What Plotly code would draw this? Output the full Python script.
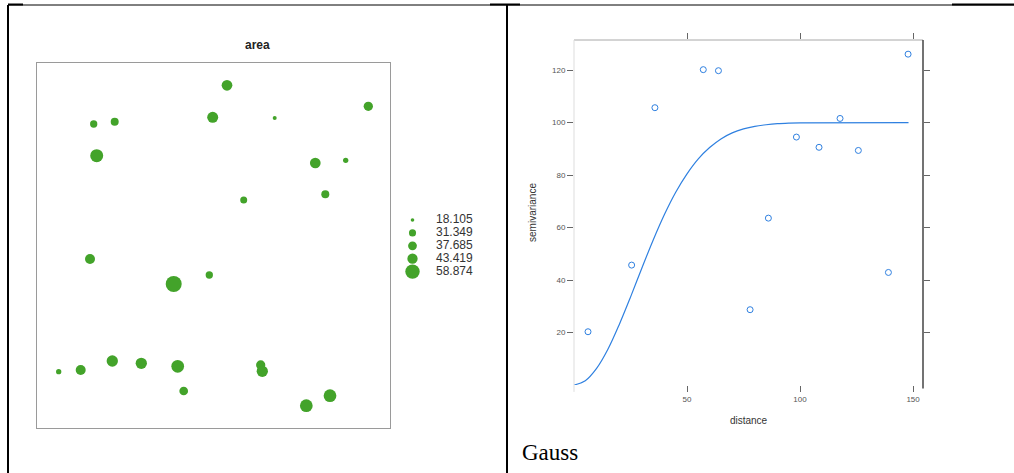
import plotly.graph_objects as go

# ---------------- data: left panel (bubble plot of "area") ----------------
site_x = [57.2, 78.2, 60.2, 176.2, 190.5, 238.2, 331.8, 278.8, 309.2, 288.8, 207.2, 53.5,
          137.2, 172.8, 22.2, 44.2, 75.8, 104.8, 141.2, 147.2, 224.2, 225.8, 269.8, 293.5]
site_y = [303.7, 306.0, 272.0, 310.4, 342.4, 309.7, 321.4, 264.7, 267.4, 233.4, 227.7, 168.7,
          143.7, 152.7, 56.0, 57.7, 66.7, 64.4, 61.4, 36.7, 62.7, 56.4, 22.0, 32.0]
site_area = [29.3, 31.7, 48.7, 41.9, 40.9, 18.105, 36.1, 40.9, 22.5, 31.7, 28.3, 38.5,
             58.874, 29.3, 22.5, 38.5, 42.9, 42.9, 47.7, 34.1, 36.1, 42.9, 47.7, 47.7]
legend_values = [18.105, 31.349, 37.685, 43.419, 58.874]
legend_labels = ["18.105", "31.349", "37.685", "43.419", "58.874"]

# ---------------- data: right panel (variogram, Gauss model) ----------------
vg_dist = [6.2, 25.5, 35.8, 57.2, 63.9, 77.9, 86.0, 98.4, 108.4, 117.7, 125.8, 139.1, 147.8]
vg_gamma = [20.3, 45.7, 105.7, 120.2, 119.8, 28.7, 63.6, 94.5, 90.6, 101.6, 89.4, 42.9, 126.1]
model_dist = [0, 5, 10, 15, 20, 25, 30, 35, 40, 45, 50, 55, 60, 65, 70, 75, 80, 85, 90, 95, 100, 148]
model_gamma = [0, 1.6, 6.3, 13.6, 23.0, 33.5, 44.5, 55.2, 65.0, 73.5, 80.5, 86.2, 90.5, 93.8,
               96.1, 97.6, 98.6, 99.2, 99.6, 99.8, 99.9, 100]
y_ticks = [20, 40, 60, 80, 100, 120]
x_ticks = [50, 100, 150]

# ---------------- helpers ----------------
W, H = 1014, 473
def px(x):
    return x / W
def py(y):
    return 1 - y / H

vmin, vmax = min(legend_values), max(legend_values)
def bubble_size(v):
    return 4 + (v - vmin) / (vmax - vmin) * 12

GREEN = "#43a32a"
BLUE = "#2f80e0"
FONT = "Liberation Sans, Arial, sans-serif"

fig = go.Figure()

# left: bubbles
fig.add_trace(go.Scatter(
    x=site_x, y=site_y, mode="markers",
    marker=dict(size=[bubble_size(v) for v in site_area], color=GREEN, opacity=1, line=dict(width=0)),
    xaxis="x", yaxis="y", showlegend=False, hoverinfo="skip"))

# left: custom size legend
legend_idx = list(range(len(legend_values)))
fig.add_trace(go.Scatter(
    x=[12.5] * len(legend_values), y=legend_idx, mode="markers",
    marker=dict(size=[bubble_size(v) * 0.9 for v in legend_values], color=GREEN, opacity=1,
                line=dict(width=0)),
    xaxis="x3", yaxis="y3", showlegend=False, hoverinfo="skip"))
fig.add_trace(go.Scatter(
    x=[36] * len(legend_values), y=legend_idx, mode="text", text=legend_labels,
    textposition="middle right", textfont=dict(family=FONT, size=12, color="#333"),
    xaxis="x3", yaxis="y3", showlegend=False, hoverinfo="skip"))

# right: model line + sample variogram
fig.add_trace(go.Scatter(
    x=model_dist, y=model_gamma, mode="lines", line=dict(color=BLUE, width=1.2, shape="spline"),
    xaxis="x2", yaxis="y2", showlegend=False, hoverinfo="skip"))
fig.add_trace(go.Scatter(
    x=vg_dist, y=vg_gamma, mode="markers",
    marker=dict(symbol="circle-open", size=6, color=BLUE, opacity=1, line=dict(width=1, color=BLUE)),
    xaxis="x2", yaxis="y2", showlegend=False, hoverinfo="skip"))

tickfont = dict(family=FONT, size=8, color="#555")
LEG_STEP = 12.9

fig.update_layout(
    width=W, height=H, margin=dict(l=0, r=0, t=0, b=0),
    paper_bgcolor="white", plot_bgcolor="white",
    xaxis=dict(domain=[px(36.5), px(390)], range=[0, 353.5], showgrid=False, zeroline=False,
               showticklabels=False, ticks="", showline=True, linecolor="#9a9a9a", linewidth=1,
               mirror=True, anchor="y"),
    yaxis=dict(domain=[py(427.7), py(63.3)], range=[0, 364.4], showgrid=False, zeroline=False,
               showticklabels=False, ticks="", showline=True, linecolor="#9a9a9a", linewidth=1,
               mirror=True, anchor="x"),
    xaxis3=dict(domain=[px(400), px(500)], range=[0, 100], visible=False, anchor="y3"),
    yaxis3=dict(domain=[py(220 + 5 * LEG_STEP), py(220 - LEG_STEP)], range=[5, -1], visible=False,
                anchor="x3"),
    xaxis2=dict(domain=[px(574), px(923)], range=[0, 154.4], showgrid=False, zeroline=False,
                anchor="y2",
                tickmode="array", tickvals=x_ticks, ticks="outside", ticklen=6, tickcolor="#666",
                tickwidth=1, mirror="ticks", showline=False, tickfont=tickfont,
                title=dict(text="distance", font=dict(family=FONT, size=10, color="#333"), standoff=14)),
    yaxis2=dict(domain=[py(385), py(40)], range=[0, 131.5], showgrid=False, zeroline=False,
                anchor="x2",
                tickmode="array", tickvals=y_ticks, ticks="outside", ticklen=6, tickcolor="#666",
                tickwidth=1, mirror="ticks", showline=False, tickfont=tickfont,
                title=dict(text="semivariance", font=dict(family=FONT, size=10, color="#333"), standoff=13)),
    font=dict(family=FONT),
)

shapes = []
# table borders of the page
blk = dict(color="black", width=2)
shapes.append(dict(type="line", xref="paper", yref="paper", x0=px(8), x1=px(8), y0=py(5), y1=0, line=blk))
shapes.append(dict(type="line", xref="paper", yref="paper", x0=px(507), x1=px(507), y0=py(5), y1=0, line=blk))
shapes.append(dict(type="line", xref="paper", yref="paper", x0=px(8), x1=1, y0=py(5), y1=py(5),
                   line=dict(color="black", width=1)))
for a, b in [(8, 23), (490, 520), (952, 1014)]:
    shapes.append(dict(type="line", xref="paper", yref="paper", x0=px(a), x1=px(b), y0=py(4.5), y1=py(4.5),
                       line=dict(color="black", width=2)))
# right panel frame (lattice style)
shapes.append(dict(type="line", xref="x2 domain", yref="y2 domain", x0=0, x1=1, y0=1, y1=1,
                   line=dict(color="#a8a8a8", width=1)))
shapes.append(dict(type="line", xref="x2 domain", yref="y2 domain", x0=1, x1=1, y0=-0.01, y1=1,
                   line=dict(color="#444", width=1.5)))
shapes.append(dict(type="line", xref="x2 domain", yref="y2 domain", x0=0, x1=0, y0=-0.02, y1=1,
                   line=dict(color="#dddddd", width=1)))
fig.update_layout(shapes=shapes)

fig.add_annotation(text="<b>area</b>", xref="paper", yref="paper", x=px(257), y=py(45),
                   showarrow=False, font=dict(family=FONT, size=12, color="#222"),
                   xanchor="center", yanchor="middle")
fig.add_annotation(text="Gauss", xref="paper", yref="paper", x=px(520), y=py(452),
                   showarrow=False, font=dict(family="Liberation Serif, Times New Roman, serif", size=23,
                                              color="black"),
                   xanchor="left", yanchor="middle")

fig.write_html("out.html", config={"displayModeBar": False},
               post_script="document.body.style.margin='0px';")
